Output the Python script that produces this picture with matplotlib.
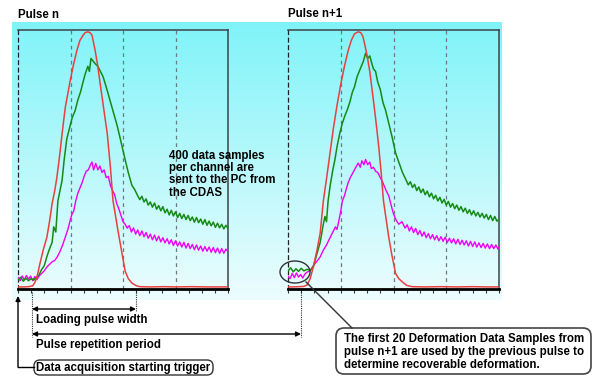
import numpy as np
import matplotlib
matplotlib.use("Agg")
import matplotlib.pyplot as plt
from matplotlib.patches import FancyBboxPatch, Ellipse, FancyArrowPatch

# ---------------- data (samples 0..400, amplitude 0..100) ----------------
red_n_x = [0, 10, 20, 28, 32, 36, 42, 48, 55, 60, 65, 70, 74, 79, 84, 90, 99, 105, 112, 118,
           124, 128, 133, 137, 141, 144, 147, 152, 156, 163, 170, 176, 181, 186, 190, 197,
           204, 210, 217, 225, 232, 250, 280, 300, 330, 360, 400]
red_n_y = [0.8, 0.8, 0.9, 1.2, 2.5, 4.5, 10, 15, 20, 26, 33, 38, 43, 51, 60, 70, 80, 86, 92, 96,
           98, 99, 99.3, 99, 98, 95, 92, 86, 80, 70, 60, 47, 34, 28, 23, 15,
           7, 4, 2.3, 1.3, 0.9, 0.8, 0.9, 0.8, 0.9, 0.8, 0.8]

green_n_x = [0, 5, 10, 15, 20, 25, 30, 35, 40, 45, 50, 55, 60, 65, 68, 72, 76, 80, 84, 88, 93,
             98, 103, 109, 114, 119, 124, 128, 133, 136, 139, 143, 147, 152, 157, 162, 168, 175,
             182, 189, 196, 204, 210, 217, 222,
             228, 232, 236, 240, 244, 248, 252, 256, 260, 264, 268, 272, 276, 280, 284, 288, 292,
             296, 300, 304, 308, 312, 316, 320, 324, 328, 332, 336, 340, 344, 348, 352, 356, 360,
             364, 368, 372, 376, 380, 384, 388, 392, 396, 400]
green_n_y = [3.5, 4.5, 3.0, 4.2, 3.2, 4.0, 3.4, 4.6, 5.5, 7.5, 9.0, 12.5, 15.5, 18.0, 24, 22, 34,
             38, 42, 50, 58, 62, 66, 69, 73, 76, 80, 83, 86, 84, 89, 88, 87, 86, 84, 82, 78, 73,
             68, 63, 57, 50, 45, 40, 38.5,
             36, 34.5, 35.8, 33.6, 34.8, 32.4, 33.6, 31.6, 33.2, 30.8, 32.2, 30.2, 31.8, 29.4,
             30.8, 28.6, 30.4, 28.2, 29.8, 27.6, 29.2, 27.2, 28.8, 26.8, 28.4, 26.4, 27.8, 25.8,
             27.6, 25.6, 27.0, 25.0, 26.8, 24.6, 26.2, 24.4, 25.8, 23.8, 25.4, 23.6, 25.0, 23.2,
             24.6, 23.4]

mag_n_x = [0, 4, 8, 12, 16, 20, 24, 28, 32, 36, 40, 45, 50, 55, 60, 65, 70, 75, 80, 85, 90, 95,
           100, 103, 106, 110, 114, 118, 122, 126, 130, 134, 138, 141, 144, 148, 152, 156, 160,
           164, 168, 172, 176, 180, 184, 188, 192, 196, 200, 204, 208, 212,
           216, 220, 224, 228, 232, 236, 240, 244, 248, 252, 256, 260, 264, 268, 272, 276, 280,
           284, 288, 292, 296, 300, 304, 308, 312, 316, 320, 324, 328, 332, 336, 340, 344, 348,
           352, 356, 360, 364, 368, 372, 376, 380, 384, 388, 392, 396, 400]
mag_n_y = [4.5, 3.2, 5.0, 3.5, 5.2, 3.8, 5.0, 3.2, 4.8, 3.6, 5.0, 6.0, 7.0, 8.5, 9.5, 10.5, 11,
           12.5, 14.5, 17, 20, 23, 27, 29, 30, 34, 37, 39, 41, 43.5, 45.5, 46, 48, 49, 46, 48.5,
           46, 47.5, 45, 46, 43, 43.5, 40, 38, 36.5, 33, 31, 28.5, 26, 25, 23.5, 24.5,
           22, 23.6, 21.2, 22.8, 20.6, 22.4, 20.2, 21.8, 19.6, 21.2, 19.0, 20.8, 18.6, 20.4,
           18.2, 19.8, 17.8, 19.4, 17.4, 19.0, 16.8, 18.6, 16.6, 18.2, 16.2, 18.0, 15.8, 17.6,
           15.6, 17.2, 15.2, 17.0, 15.0, 16.6, 14.6, 16.4, 14.6, 16.2, 14.2, 16.0, 14.0, 15.8,
           13.8, 15.6, 13.8, 15.4, 14.4]

red_n1_x = [0, 10, 20, 30, 36, 42, 48, 55, 61, 67, 74, 80, 86, 93, 100, 107, 114, 120, 126,
            133, 138, 142, 146, 150, 155, 160, 166, 172, 177, 181, 186, 191, 197, 204, 210, 217,
            225, 235, 260, 290, 320, 350, 380, 400]
red_n1_y = [0.8, 0.8, 0.9, 1.0, 1.5, 4, 8.5, 15, 21.6, 34, 44, 53, 62, 71, 79, 86, 92, 96, 98.5,
            99.3, 99, 97.5, 94, 90, 84, 76, 66, 55, 44, 34, 27, 20, 13, 6, 4, 2.7,
            1.4, 0.9, 0.8, 0.9, 0.8, 0.9, 0.8, 0.8]

green_n1_x = [0, 5, 10, 15, 20, 25, 30, 36, 42, 48, 54, 61, 66, 70, 73, 76, 80, 85, 89, 93,
              98, 103, 108, 112, 117, 122, 126, 131, 135, 139, 143, 147, 151, 155, 159, 162, 166,
              170, 175, 180, 185, 191, 197, 204, 210, 217,
              224, 228, 232, 236, 240, 244, 248, 252, 256, 260, 264, 268, 272, 276, 280, 284,
              288, 292, 296, 300, 304, 308, 312, 316, 320, 324, 328, 332, 336, 340, 344, 348,
              352, 356, 360, 364, 368, 372, 376, 380, 384, 388, 392, 396, 400]
green_n1_y = [7.0, 8.2, 6.6, 7.8, 6.8, 8.0, 7.0, 7.6, 7.2, 8.5, 13, 18, 24, 28, 26, 34, 40, 46,
              50, 55, 60, 64, 67, 69, 72, 76, 78, 82, 84, 86, 88, 91, 89, 90, 87, 85, 84, 80,
              77, 72, 69, 64, 59, 52.5, 49, 45,
              42, 40.2, 41.4, 39.2, 40.4, 38.0, 39.4, 37.2, 38.6, 36.4, 37.8, 35.6, 37.0, 34.8,
              36.2, 34.0, 35.4, 33.2, 34.6, 32.4, 33.8, 31.6, 33.0, 31.0, 32.4, 30.4, 31.8, 29.8,
              31.2, 29.2, 30.6, 28.6, 30.2, 28.2, 29.6, 27.8, 29.2, 27.4, 28.8, 26.8, 28.4, 26.4,
              28.0, 26.2, 27.0]

mag_n1_x = [0, 4, 8, 12, 16, 20, 24, 28, 32, 36, 42, 48, 54, 61, 67, 73, 79, 85, 90, 93, 97,
            100, 103, 107, 111, 114, 118, 122, 126, 130, 133, 137, 140, 144, 147, 151, 155, 158,
            162, 166, 170, 175, 180, 186, 191, 196, 200, 205, 210, 216,
            222, 226, 230, 234, 238, 242, 246, 250, 254, 258, 262, 266, 270, 274, 278, 282, 286,
            290, 294, 298, 302, 306, 310, 314, 318, 322, 326, 330, 334, 338, 342, 346, 350, 354,
            358, 362, 366, 370, 374, 378, 382, 386, 390, 394, 398, 400]
mag_n1_y = [5.0, 4.0, 6.0, 4.4, 6.2, 4.6, 5.6, 4.2, 5.8, 6.5, 7.0, 9.0, 10.5, 12.4, 15, 17,
            19.5, 22, 24, 23, 27, 30, 34, 36, 39, 41, 43, 44.5, 46, 47.5, 48.6, 47, 49.5, 48,
            50, 48, 49, 46.5, 47, 45.5, 45, 43, 41, 38, 36, 32, 29, 26.6, 25, 26,
            23.5, 24.8, 22.4, 24.0, 21.8, 23.4, 21.0, 22.6, 20.4, 22.0, 19.8, 21.4, 19.4, 21.0,
            19.0, 20.6, 18.6, 20.2, 18.4, 20.0, 18.0, 19.6, 17.8, 19.4, 17.4, 19.2, 17.2, 18.8,
            17.0, 18.6, 16.6, 18.4, 16.4, 18.2, 16.2, 17.8, 16.0, 17.6, 15.8, 17.4, 15.6, 17.2,
            15.6, 17.0, 15.4, 16.2]

dash_samples = [100, 200, 300]
tick_samples = list(range(0, 401, 25))

titles = ["Pulse n", "Pulse n+1"]
middle_note = "400 data samples\nper channel are\nsent to the PC from\nthe CDAS"
label_loading = "Loading pulse width"
label_period = "Pulse repetition period"
label_trigger = "Data acquisition starting trigger"
box_note = ("The first 20 Deformation Data Samples from\n"
            "pulse n+1 are used by the previous pulse to\n"
            "determine recoverable deformation.")

# ---------------- figure ----------------
W, H = 593, 376
fig = plt.figure(figsize=(W / 100, H / 100), dpi=100)
FONT = dict(family=["Liberation Sans", "DejaVu Sans"], fontweight="bold", fontsize=8.3)


def px_rect(x0, y0, x1, y1):
    return [x0 / W, 1 - y1 / H, (x1 - x0) / W, (y1 - y0) / H]


# background gradient (cyan -> white)
bg = fig.add_axes([0, 0, 1, 1])
bg.set_xlim(0, W)
bg.set_ylim(H, 0)
bg.axis("off")
n = 200
t = np.linspace(0, 1, n)[:, None]
top = np.array([0.50, 0.955, 0.975])
bot = np.array([0.93, 0.99, 0.995])
grad = top * (1 - t) + bot * t
grad = np.repeat(grad[:, None, :], 2, axis=1)
bg.imshow(grad, extent=[12, 502, 300, 22], aspect="auto", interpolation="bilinear")

RED = "#e8403f"
GREEN = "#168a16"
MAG = "#f000f0"


def make_panel(rect, rx, ry, gx, gy, mx, my):
    ax = fig.add_axes(rect)
    ax.set_facecolor("none")
    ax.set_xlim(0, 400)
    ax.set_ylim(0, 100)
    for xs in dash_samples:
        ax.axvline(xs, color="#6b7b80", lw=0.9, ls=(0, (3, 3)), zorder=1)
    ax.plot(mx, my, color=MAG, lw=1.0, zorder=3)
    ax.plot(gx, gy, color=GREEN, lw=1.1, zorder=4)
    ax.plot(rx, ry, color=RED, lw=1.1, zorder=5)
    for s in ["top", "right"]:
        ax.spines[s].set_color("#3a4448")
        ax.spines[s].set_linewidth(1.1)
    ax.spines["left"].set_color("#222")
    ax.spines["left"].set_linewidth(0.9)
    ax.spines["left"].set_linestyle((0, (3, 3)))
    ax.spines["bottom"].set_color("black")
    ax.spines["bottom"].set_linewidth(2.0)
    ax.set_xticks(tick_samples)
    ax.set_xticklabels([])
    ax.set_yticks([])
    ax.tick_params(axis="x", direction="out", length=3, width=0.8, color="#333")
    return ax


axL = make_panel(px_rect(18, 30, 228, 289), red_n_x, red_n_y, green_n_x, green_n_y, mag_n_x, mag_n_y)
axR = make_panel(px_rect(288, 30, 499, 289), red_n1_x, red_n1_y, green_n1_x, green_n1_y, mag_n1_x, mag_n1_y)

# overlay for annotations (pixel coordinates)
ov = fig.add_axes([0, 0, 1, 1])
ov.set_facecolor("none")
ov.set_xlim(0, W)
ov.set_ylim(H, 0)
ov.axis("off")

ov.text(18, 15, titles[0], va="center", ha="left", **FONT)
ov.text(288, 14, titles[1], va="center", ha="left", **FONT)
ov.text(169, 149.5, middle_note, va="top", ha="left", linespacing=1.05, **FONT)

# dotted guide lines
for x0, y1 in [(32, 337), (136, 311), (301, 337)]:
    ov.plot([x0, x0], [292, y1], color="#333", lw=0.8, ls=(0, (1, 1)))


def dbl_arrow(x0, x1, y):
    ov.add_patch(FancyArrowPatch((x0, y), (x1, y), arrowstyle="<|-|>", mutation_scale=7,
                                 lw=1.0, color="black", shrinkA=0, shrinkB=0))


dbl_arrow(32, 136, 309)
dbl_arrow(32, 301, 334)
ov.text(36, 320, label_loading, va="center", ha="left", **FONT)
ov.text(36, 345, label_period, va="center", ha="left", **FONT)

# trigger arrow and box
ov.add_patch(FancyArrowPatch((18, 367), (18, 296), arrowstyle="-|>", mutation_scale=7,
                             lw=1.0, color="black", shrinkA=0, shrinkB=0))
ov.plot([18, 34], [367, 367], color="black", lw=1.0)
ov.add_patch(FancyBboxPatch((34, 360), 179, 15, boxstyle="round,pad=0,rounding_size=6",
                            fc="white", ec="#333", lw=1.0))
ov.text(36, 367.5, label_trigger, va="center", ha="left", **FONT)

# ellipse and callout box
ov.add_patch(Ellipse((295, 272), 30, 22, fc="none", ec="#333", lw=1.0))
ov.plot([306, 352], [282, 328], color="#333", lw=1.0)
ov.add_patch(FancyBboxPatch((336, 328), 255, 46, boxstyle="round,pad=0,rounding_size=8",
                            fc="white", ec="#444", lw=1.2))
ov.text(344, 352, box_note, va="center", ha="left", linespacing=1.15, **FONT)

fig.savefig("out.png", dpi=100)
